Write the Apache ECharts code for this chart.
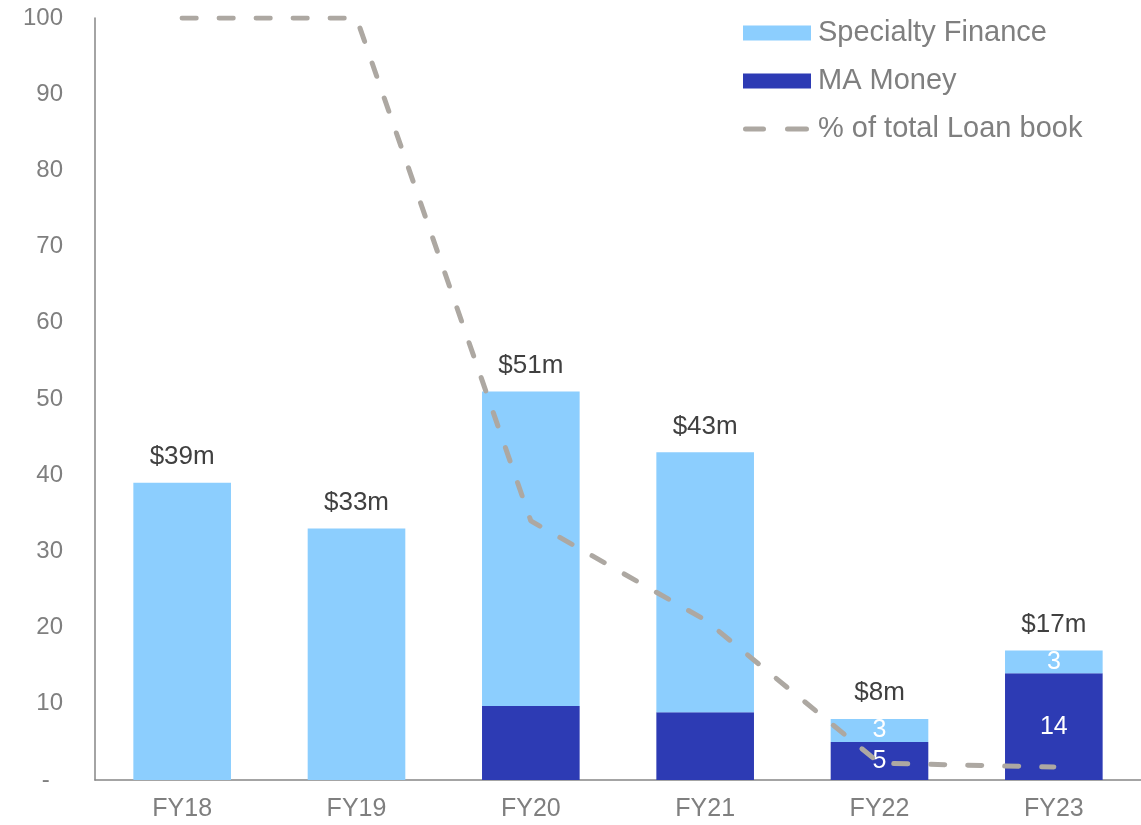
<!DOCTYPE html>
<html>
<head>
<meta charset="utf-8">
<script src="https://cdn.jsdelivr.net/npm/echarts@6/dist/echarts.min.js"></script>
<style>
  html, body { margin: 0; padding: 0; background: #ffffff; }
  #chart { width: 1141px; height: 825px; }
</style>
</head>
<body>
<div id="chart"></div>
<script>
// Loan book by business line ($m) and share of total loan book (%)
const categories = ['FY18', 'FY19', 'FY20', 'FY21', 'FY22', 'FY23'];
const specialtyFinance = [39, 33, 41.3, 34.1, 3, 3];
const maMoney = [0, 0, 9.7, 8.9, 5, 14];
const totals = [39, 33, 51, 43, 8, 17];
const shareOfLoanBook = [100, 100, 34, 21, 2.2, 1.7];
// Segments whose value is printed inside the bar
const showSegmentLabel = [false, false, false, false, true, true];

const FONT = '"Liberation Sans", Arial, sans-serif';
const AXIS_GREY = '#7f7f7f';
const LIGHT_BLUE = '#8CCEFE';
const DARK_BLUE = '#2D3BB4';
const LINE_GREY = '#ADA8A2';

// Two rounded dashes inside a 68x15 box (corner specks keep the box size)
const DASH_ICON = 'path://M0,0 L0.05,0 L0.05,0.05 Z ' +
  'M2.5,5 L20.5,5 A2.5,2.5 0 0 1 20.5,10 L2.5,10 A2.5,2.5 0 0 1 2.5,5 Z ' +
  'M44.5,5 L63.5,5 A2.5,2.5 0 0 1 63.5,10 L44.5,10 A2.5,2.5 0 0 1 44.5,5 Z ' +
  'M67.95,14.95 L68,15 L67.95,15 Z';

const segLabel = {
  show: true, position: 'inside', color: '#ffffff',
  fontSize: 25, fontFamily: FONT
};

function segmentData(values) {
  return values.map((v, i) => ({
    value: v,
    label: showSegmentLabel[i] ? segLabel : { show: false }
  }));
}

const chart = echarts.init(document.getElementById('chart'), null, { renderer: 'canvas' });

chart.setOption({
  animation: false,
  backgroundColor: '#ffffff',
  grid: { left: 95, right: 0, top: 18, bottom: 45, containLabel: false },
  legend: {
    orient: 'vertical',
    left: 743,
    top: 18,
    padding: 0,
    itemWidth: 68,
    itemHeight: 15,
    itemGap: 18,
    textStyle: { color: AXIS_GREY, fontSize: 29, fontFamily: FONT, lineHeight: 30, padding: [0, 0, 0, 2] },
    data: [
      { name: 'Specialty Finance', icon: 'rect' },
      { name: 'MA Money', icon: 'rect' },
      { name: '% of total Loan book', icon: DASH_ICON, itemStyle: { color: LINE_GREY } }
    ]
  },
  xAxis: {
    type: 'category',
    data: categories,
    axisLine: { lineStyle: { color: '#868686', width: 1.5 } },
    axisTick: { show: false },
    axisLabel: { color: AXIS_GREY, fontSize: 25, fontFamily: FONT, margin: 17 }
  },
  yAxis: {
    type: 'value',
    min: 0, max: 100, interval: 10,
    splitLine: { show: false },
    axisTick: { show: false },
    axisLine: { show: true, lineStyle: { color: '#868686', width: 1.5 } },
    axisLabel: {
      color: AXIS_GREY, fontSize: 24, fontFamily: FONT, margin: 32,
      formatter: v => (v === 0 ? '-  ' : String(v))
    }
  },
  series: [
    {
      name: 'MA Money',
      type: 'bar',
      stack: 'book',
      barCategoryGap: '44%',
      itemStyle: { color: DARK_BLUE },
      data: segmentData(maMoney)
    },
    {
      name: 'Specialty Finance',
      type: 'bar',
      stack: 'book',
      itemStyle: { color: LIGHT_BLUE },
      data: segmentData(specialtyFinance)
    },
    {
      // transparent overlay carrying the total labels
      name: 'total',
      type: 'bar',
      barGap: '-100%',
      itemStyle: { color: 'rgba(0,0,0,0)' },
      label: {
        show: true, position: 'top', distance: 13,
        color: '#404040', fontSize: 26, fontFamily: FONT,
        formatter: p => '$' + p.value + 'm'
      },
      silent: true,
      data: totals
    },
    {
      name: '% of total Loan book',
      type: 'line',
      symbol: 'none',
      z: 5,
      lineStyle: { color: LINE_GREY, width: 5, type: [14, 23], cap: 'round' },
      itemStyle: { color: LINE_GREY },
      data: shareOfLoanBook
    }
  ]
});
</script>
</body>
</html>
